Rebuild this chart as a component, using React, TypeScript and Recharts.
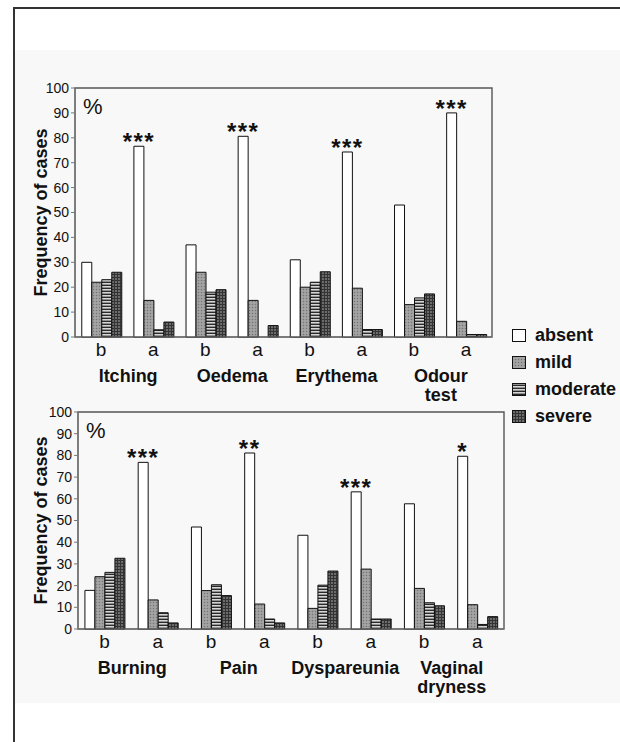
import React from 'react';
import { BarChart, Bar, XAxis, YAxis, ReferenceArea, LabelList } from 'recharts';

// before (b) / after (a) treatment, two columns per symptom
const phases = ['b', 'a', 'b', 'a', 'b', 'a', 'b', 'a'];
const yTicks = [0, 10, 20, 30, 40, 50, 60, 70, 80, 90, 100];
const severities = ['absent', 'mild', 'moderate', 'severe'];

const topSymptoms = [['Itching'], ['Oedema'], ['Erythema'], ['Odour', 'test']];
const topAbsent = [30, 76.6, 37, 80.6, 31, 74.3, 53, 90];
const topMild = [22, 14.7, 26, 14.7, 20, 19.6, 13, 6.3];
const topModerate = [23, 2.9, 18, 0, 22, 3, 15.7, 1];
const topSevere = [26, 6, 19, 4.6, 26.2, 3, 17.3, 1];
const topStars = ['', '***', '', '***', '', '***', '', '***'];

const botSymptoms = [['Burning'], ['Pain'], ['Dyspareunia'], ['Vaginal', 'dryness']];
const botAbsent = [17.8, 76.8, 47, 81.1, 43.2, 63.2, 57.7, 79.6];
const botMild = [24.1, 13.4, 17.7, 11.5, 9.5, 27.6, 18.7, 11.2];
const botModerate = [26.1, 7.5, 20.4, 4.6, 20.2, 4.6, 12.1, 2.1];
const botSevere = [32.6, 2.8, 15.4, 2.8, 26.7, 4.6, 10.7, 5.7];
const botStars = ['', '***', '', '**', '', '***', '', '*'];

const FONT = '"Liberation Sans", Arial, Helvetica, sans-serif';
const fills: Record<string, string> = {
  absent: '#ffffff',
  mild: 'url(#pMild)',
  moderate: 'url(#pModerate)',
  severe: 'url(#pSevere)',
};

const buildRows = (absent: number[], mild: number[], moderate: number[], severe: number[], stars: string[]) =>
  phases.map((p, i) => ({
    phase: p,
    absent: absent[i],
    mild: mild[i],
    moderate: moderate[i],
    severe: severe[i],
    stars: stars[i],
  }));

const Patterns = () => (
  <svg width={0} height={0} style={{ position: 'absolute' }}>
    <defs>
      <pattern id="pMild" width={3} height={3} patternUnits="userSpaceOnUse">
        <rect width={3} height={3} fill="#9c9c9c" />
        <rect x={0} y={0} width={1} height={1} fill="#747474" />
        <rect x={1.5} y={1.5} width={1} height={1} fill="#bcbcbc" />
      </pattern>
      <pattern id="pModerate" width={4} height={3} patternUnits="userSpaceOnUse">
        <rect width={4} height={3} fill="#d6d6d6" />
        <rect y={1.6} width={4} height={1.4} fill="#2a2a2a" />
      </pattern>
      <pattern id="pSevere" width={3} height={3} patternUnits="userSpaceOnUse">
        <rect width={3} height={3} fill="#6c6c6c" />
        <rect width={3} height={1} fill="#333" />
        <rect width={1} height={3} fill="#333" />
      </pattern>
    </defs>
  </svg>
);

const StarLabel = (props: any) => {
  const { x, y, width, value } = props;
  if (!value) return null;
  return (
    <text x={x + width / 2} y={y + 4} textAnchor="middle" fontSize={24} fontWeight="bold"
      letterSpacing={1.5} fill="#111" fontFamily={FONT}>
      {value}
    </text>
  );
};

type PanelProps = {
  rows: any[];
  names: string[][];
  top: number;
  width: number;
  height: number;
  margin: { top: number; right: number; left: number; bottom: number };
  yAxisWidth: number;
};

const Panel = ({ rows, names, top, width, height, margin, yAxisWidth }: PanelProps) => {
  const band = (width - yAxisWidth - margin.left - margin.right) / rows.length;

  const renderTick = (p: any) => {
    const { x, y, payload, index } = p;
    return (
      <g>
        <text x={x} y={y + 19} textAnchor="middle" fontSize={19} fill="#111" fontFamily={FONT}>
          {payload.value}
        </text>
        {index % 2 === 0 &&
          names[index / 2].map((line, k) => (
            <text key={k} x={x + band / 2 + 1} y={y + 45 + k * 19} textAnchor="middle" fontSize={18}
              fontWeight="bold" fill="#111" fontFamily={FONT}>
              {line}
            </text>
          ))}
      </g>
    );
  };

  const renderYLabel = (p: any) => {
    const vb = p.viewBox;
    const cx = 47;
    const cy = vb.y + vb.height / 2;
    return (
      <text x={cx} y={cy} transform={`rotate(-90 ${cx} ${cy})`} textAnchor="middle" fontSize={18}
        fontWeight="bold" fill="#111" fontFamily={FONT}>
        Frequency of cases
      </text>
    );
  };

  const renderPercent = (p: any) => {
    const vb = p.viewBox;
    return (
      <text x={vb.x + 8} y={vb.y + 26} fontSize={22} fill="#111" fontFamily={FONT}>%</text>
    );
  };

  return (
    <div style={{ position: 'absolute', left: 0, top, width, height }}>
      <BarChart width={width} height={height} data={rows} margin={margin} barCategoryGap="13%" barGap={0}>
        <XAxis dataKey="phase" height={78} tickSize={0} tickMargin={0} tickLine={false}
          axisLine={{ stroke: '#777' }} tick={renderTick} interval={0} />
        <YAxis domain={[0, 100]} ticks={yTicks} width={yAxisWidth} tickSize={4} tickMargin={2}
          axisLine={{ stroke: '#777' }} tickLine={{ stroke: '#777' }}
          tick={{ fontSize: 14, fill: '#111', fontFamily: FONT }} label={{ content: renderYLabel }} />
        <ReferenceArea y1={0} y2={100} fill="none" stroke="#555" strokeWidth={1.4} ifOverflow="visible"
          label={{ content: renderPercent }} />
        {severities.map((s) => (
          <Bar key={s} dataKey={s} fill={fills[s]} stroke="#111" strokeWidth={1} isAnimationActive={false}>
            {s === 'absent' && <LabelList dataKey="stars" content={StarLabel} />}
          </Bar>
        ))}
      </BarChart>
    </div>
  );
};

const LegendBox = () => (
  <div style={{ position: 'absolute', left: 512, top: 322, fontFamily: FONT }}>
    {severities.map((s) => (
      <div key={s} style={{ display: 'flex', alignItems: 'center', height: 27 }}>
        <svg width={15} height={14} style={{ marginRight: 8 }}>
          <rect x={0.5} y={0.5} width={13} height={12} fill={fills[s]} stroke="#111" strokeWidth={1} />
        </svg>
        <span style={{ fontSize: 18, fontWeight: 'bold', color: '#111' }}>{s}</span>
      </div>
    ))}
  </div>
);

export default function App() {
  const topRows = buildRows(topAbsent, topMild, topModerate, topSevere, topStars);
  const botRows = buildRows(botAbsent, botMild, botModerate, botSevere, botStars);

  return (
    <div style={{ position: 'absolute', left: 0, top: 0, width: 620, height: 742, background: '#fff', overflow: 'hidden' }}>
      <Patterns />
      <div style={{ position: 'absolute', left: 14, top: 50, width: 606, height: 653, background: '#f8f8f8' }} />
      <div style={{ position: 'absolute', left: 13, top: 7, width: 620, height: 760, borderLeft: '2px solid #333', borderTop: '2px solid #333' }} />
      <Panel rows={topRows} names={topSymptoms} top={70} width={500} height={345}
        margin={{ top: 18, right: 8, left: 0, bottom: 0 }} yAxisWidth={75} />
      <Panel rows={botRows} names={botSymptoms} top={395} width={510} height={320}
        margin={{ top: 17, right: 6, left: 0, bottom: 8 }} yAxisWidth={78} />
      <LegendBox />
    </div>
  );
}
